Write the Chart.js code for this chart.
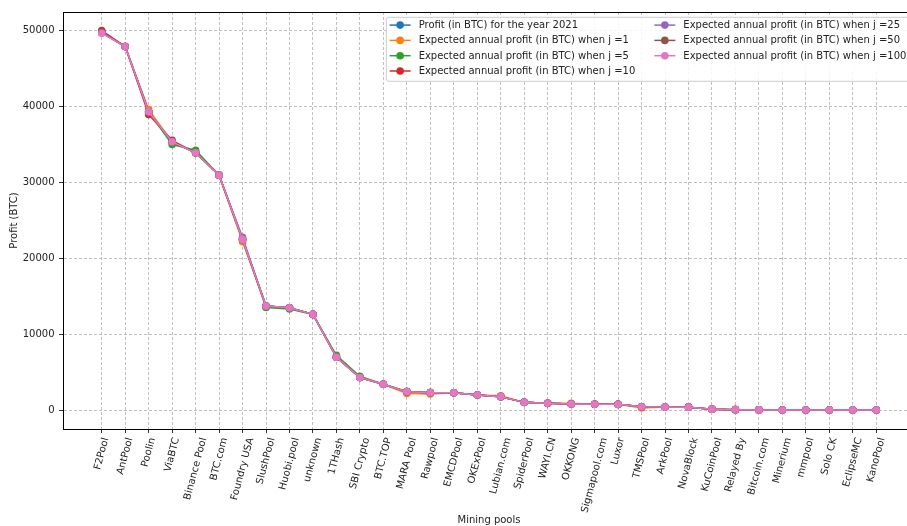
<!DOCTYPE html>
<html>
<head>
<meta charset="utf-8">
<script src="https://cdn.jsdelivr.net/npm/chart.js@4.4.0/dist/chart.umd.min.js"></script>
<style>
  html, body { margin: 0; padding: 0; overflow: hidden; background: #fff; }
  canvas { display: block; }
</style>
</head>
<body>
<canvas id="poolChart" width="925" height="526"></canvas>
<script>
const pools = ['F2Pool', 'AntPool', 'Poolin', 'ViaBTC', 'Binance Pool', 'BTC.com', 'Foundry USA',
    'SlushPool', 'Huobi.pool', 'unknown', '1THash', 'SBI Crypto', 'BTC.TOP', 'MARA Pool', 'Rawpool',
    'EMCDPool', 'OKExPool', 'Lubian.com', 'SpiderPool', 'WAYI.CN', 'OKKONG', 'Sigmapool.com', 'Luxor',
    'TMSPool', 'ArkPool', 'NovaBlock', 'KuCoinPool', 'Relayed By', 'Bitcoin.com', 'Minerium', 'mmpool',
    'Solo CK', 'EclipseMC', 'KanoPool'];

const profit2021 = [49750, 47850, 39250, 35300, 33860, 30920, 22460, 13680, 13460, 12590, 6950, 4280, 3400,
    2420, 2290, 2270, 1980, 1760, 1010, 880, 800, 760, 750, 440, 390, 380, 120, 50, 20, 10, 6, 3, 2, 1];
const expJ1 = [49800, 47850, 39550, 35300, 33900, 30920, 22150, 13680, 13460, 12590, 6950, 4280, 3400,
    2170, 2110, 2270, 1980, 1880, 1010, 880, 900, 760, 750, 260, 390, 380, 120, 50, 20, 10, 6, 3, 2, 1];
const expJ5 = [49750, 47850, 39250, 34950, 34200, 30920, 22460, 13500, 13300, 12590, 7200, 4450, 3400,
    2420, 2290, 2270, 1980, 1760, 1010, 880, 800, 760, 750, 440, 390, 380, 120, 50, 20, 10, 6, 3, 2, 1];
const expJ10 = [49950, 47850, 38900, 35500, 33860, 30920, 22460, 13680, 13460, 12590, 6950, 4280, 3400,
    2420, 2290, 2270, 1980, 1760, 1010, 880, 800, 760, 750, 440, 390, 380, 120, 50, 20, 10, 6, 3, 2, 1];
const expJ25 = [49700, 47850, 39250, 35300, 33860, 30920, 22750, 13680, 13460, 12590, 6950, 4280, 3400,
    2420, 2290, 2270, 1980, 1760, 1010, 880, 800, 760, 750, 440, 390, 380, 120, 50, 20, 10, 6, 3, 2, 1];
const expJ50 = [49650, 47850, 39250, 35300, 33860, 30920, 22460, 13680, 13460, 12590, 6950, 4280, 3400,
    2420, 2290, 2270, 1980, 1760, 1010, 880, 800, 760, 750, 440, 390, 380, 120, 50, 20, 10, 6, 3, 2, 1];
const expJ100 = [49600, 47850, 39250, 35300, 33860, 30920, 22460, 13680, 13460, 12590, 6950, 4280, 3400,
    2420, 2290, 2270, 1980, 1760, 1010, 880, 800, 760, 750, 440, 390, 380, 120, 50, 20, 10, 6, 3, 2, 1];

const yTicks = [0, 10000, 20000, 30000, 40000, 50000];

const seriesList = [
    { label: 'Profit (in BTC) for the year 2021', values: profit2021, color: '#1f77b4' },
    { label: 'Expected annual profit (in BTC) when j =1', values: expJ1, color: '#ff7f0e' },
    { label: 'Expected annual profit (in BTC) when j =5', values: expJ5, color: '#2ca02c' },
    { label: 'Expected annual profit (in BTC) when j =10', values: expJ10, color: '#d62728' },
    { label: 'Expected annual profit (in BTC) when j =25', values: expJ25, color: '#9467bd' },
    { label: 'Expected annual profit (in BTC) when j =50', values: expJ50, color: '#8c564b' },
    { label: 'Expected annual profit (in BTC) when j =100', values: expJ100, color: '#e377c2' }
];

const FONT = 'DejaVu Sans';
const FS = 10;

// matplotlib-like x tick labels, rotated 75 deg and centred on the tick
const xLabelsPlugin = {
    id: 'xLabels',
    afterDraw(chart) {
        const ctx = chart.ctx;
        const xs = chart.scales.x;
        const top = chart.chartArea.bottom + 7.5;
        const a = 75 * Math.PI / 180;
        ctx.save();
        ctx.font = FS + 'px "' + FONT + '"';
        ctx.fillStyle = '#222';
        ctx.textAlign = 'center';
        ctx.textBaseline = 'middle';
        pools.forEach((name, i) => {
            const w = ctx.measureText(name).width;
            const h = FS * 1.1;
            const bh = w * Math.sin(a) + h * Math.cos(a);
            const x = xs.getPixelForValue(i);
            ctx.save();
            ctx.translate(x, top + bh / 2);
            ctx.rotate(-a);
            ctx.fillText(name, 0, 0);
            ctx.restore();
        });
        ctx.restore();
    }
};

// top/right spine and matplotlib style legend box inside the axes
const frameLegendPlugin = {
    id: 'frameLegend',
    afterDraw(chart) {
        const ctx = chart.ctx;
        const area = chart.chartArea;
        ctx.save();
        ctx.strokeStyle = '#000';
        ctx.lineWidth = 1;
        ctx.beginPath();
        ctx.moveTo(area.left, area.top + 0.5);
        ctx.lineTo(area.right + 0.5, area.top + 0.5);
        ctx.lineTo(area.right + 0.5, area.bottom);
        ctx.stroke();

        ctx.font = FS + 'px "' + FONT + '"';
        const col1 = seriesList.slice(0, 4);
        const col2 = seriesList.slice(4);
        const w1 = Math.max(...col1.map(s => ctx.measureText(s.label).width));
        const w2 = Math.max(...col2.map(s => ctx.measureText(s.label).width));
        const pad = 3.8, handle = 21, gap = 8, colGap = 19, rowH = 15.3;
        const boxW = pad + handle + gap + w1 + colGap + handle + gap + w2 + pad;
        const boxH = 64;
        const right = area.right - 4.8;
        const left = right - boxW;
        const top = area.top + 4.8;

        ctx.fillStyle = 'rgba(255,255,255,0.85)';
        ctx.strokeStyle = '#cccccc';
        ctx.beginPath();
        ctx.roundRect(left + 0.5, top + 0.5, boxW, boxH, 2.5);
        ctx.fill();
        ctx.stroke();

        ctx.textAlign = 'left';
        ctx.textBaseline = 'middle';
        const drawCol = (items, x0) => {
            items.forEach((s, r) => {
                const y = top + pad + 4.5 + r * rowH;
                ctx.strokeStyle = s.color;
                ctx.lineWidth = 1.5;
                ctx.beginPath();
                ctx.moveTo(x0, y);
                ctx.lineTo(x0 + handle, y);
                ctx.stroke();
                ctx.fillStyle = s.color;
                ctx.beginPath();
                ctx.arc(x0 + handle / 2, y, 3.8, 0, Math.PI * 2);
                ctx.fill();
                ctx.fillStyle = '#222';
                ctx.fillText(s.label, x0 + handle + gap, y + 0.5);
            });
        };
        drawCol(col1, left + pad);
        drawCol(col2, left + pad + handle + gap + w1 + colGap);
        ctx.restore();
    }
};

const ctx = document.getElementById('poolChart').getContext('2d');

const chart = new Chart(ctx, {
    type: 'line',
    data: {
        datasets: seriesList.map((s, i) => ({
            label: s.label,
            data: s.values.map((v, k) => ({ x: k, y: v })),
            borderColor: s.color,
            backgroundColor: s.color,
            borderWidth: 1.5,
            pointRadius: 3.8,
            pointBorderWidth: 0,
            pointHoverRadius: 3.8,
            fill: false,
            tension: 0,
            order: seriesList.length - i // last series on top
        }))
    },
    options: {
        responsive: false,
        animation: false,
        devicePixelRatio: 1,
        layout: {
            padding: { left: 0, top: 12, right: 10, bottom: 0 }
        },
        plugins: {
            legend: { display: false },
            tooltip: { enabled: false }
        },
        scales: {
            x: {
                type: 'linear',
                min: -1.65,
                max: pools.length - 1 + 1.65,
                afterBuildTicks: scale => {
                    scale.ticks = pools.map((p, i) => ({ value: i }));
                },
                afterFit: scale => { scale.height = 97; },
                ticks: { display: false },
                grid: {
                    color: '#b0b0b0',
                    lineWidth: 0.8,
                    tickLength: 4,
                    tickColor: '#000',
                    tickWidth: 0.8,
                    tickBorderDash: []
                },
                border: { display: true, color: '#000', width: 1, dash: [3, 2] },
                title: {
                    display: true,
                    text: 'Mining pools',
                    color: '#222',
                    font: { family: FONT, size: FS },
                    padding: { top: 0, bottom: 0 }
                }
            },
            y: {
                min: -2495,
                max: 52395,
                afterBuildTicks: scale => {
                    scale.ticks = yTicks.map(v => ({ value: v }));
                },
                afterFit: scale => { scale.width = 63; },
                ticks: {
                    color: '#222',
                    font: { family: FONT, size: FS },
                    padding: 4.5,
                    callback: value => String(value)
                },
                grid: {
                    color: '#b0b0b0',
                    lineWidth: 0.8,
                    tickLength: 4,
                    tickColor: '#000',
                    tickWidth: 0.8,
                    tickBorderDash: []
                },
                border: { display: true, color: '#000', width: 1, dash: [3, 2] },
                title: {
                    display: true,
                    text: 'Profit (BTC)',
                    color: '#222',
                    font: { family: FONT, size: FS },
                    padding: { top: 8, bottom: 0 }
                }
            }
        }
    },
    plugins: [xLabelsPlugin, frameLegendPlugin]
});
</script>
</body>
</html>
